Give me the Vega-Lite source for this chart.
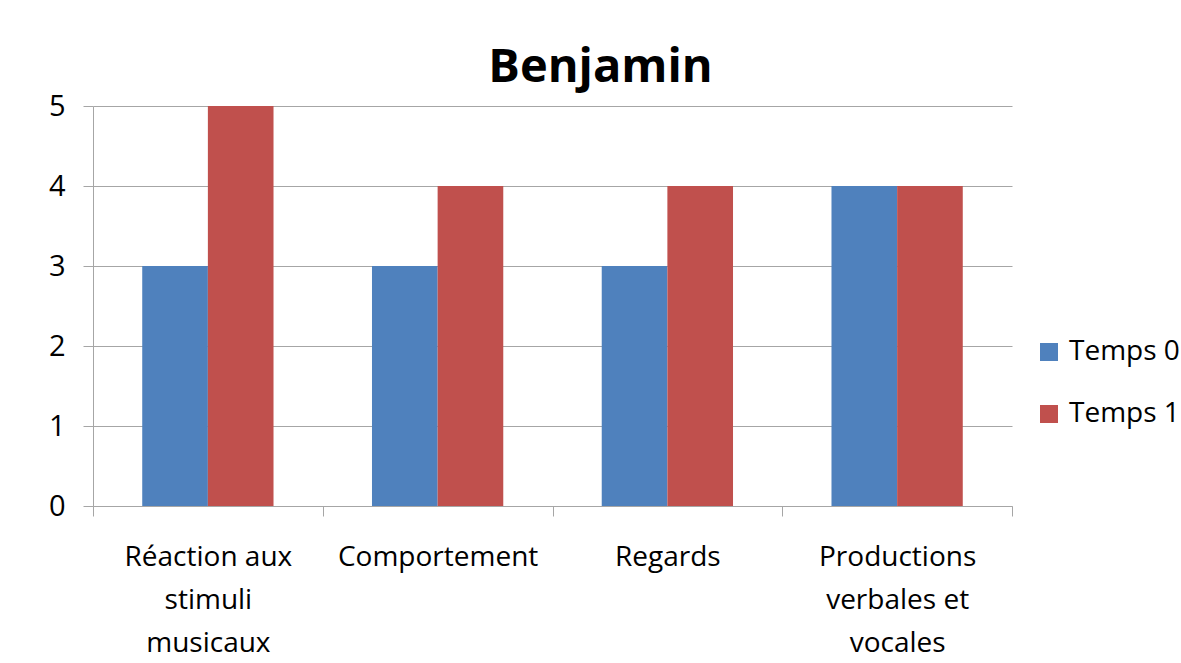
{
  "$schema": "https://vega.github.io/schema/vega-lite/v6.json",
  "width": 919,
  "height": 400,
  "autosize": {"type": "none"},
  "padding": {"left": 93, "top": 106, "right": 169, "bottom": 157},
  "background": "white",
  "title": {
    "text": "Benjamin",
    "font": "Open Sans",
    "fontSize": 47,
    "fontWeight": "bold",
    "color": "black",
    "anchor": "middle",
    "frame": "group",
    "dx": 48,
    "offset": 0
  },
  "data": {
    "values": [
      {"categorie": "Réaction aux stimuli musicaux", "temps": "Temps 0", "score": 3},
      {"categorie": "Réaction aux stimuli musicaux", "temps": "Temps 1", "score": 5},
      {"categorie": "Comportement", "temps": "Temps 0", "score": 3},
      {"categorie": "Comportement", "temps": "Temps 1", "score": 4},
      {"categorie": "Regards", "temps": "Temps 0", "score": 3},
      {"categorie": "Regards", "temps": "Temps 1", "score": 4},
      {"categorie": "Productions verbales et vocales", "temps": "Temps 0", "score": 4},
      {"categorie": "Productions verbales et vocales", "temps": "Temps 1", "score": 4}
    ]
  },
  "mark": {"type": "bar"},
  "encoding": {
    "x": {
      "field": "categorie",
      "type": "nominal",
      "sort": null,
      "scale": {"paddingInner": 0, "paddingOuter": 0},
      "axis": {
        "title": null,
        "labelAngle": 0,
        "tickBand": "extent",
        "tickSize": 10,
        "domainColor": "#a6a6a6",
        "tickColor": "#a6a6a6",
        "labelFont": "Open Sans",
        "labelFontSize": 28,
        "labelColor": "black",
        "labelLineHeight": 43,
        "labelPadding": 27,
        "labelLimit": 0,
        "labelOverlap": false,
        "labelExpr": "datum.label == 'Réaction aux stimuli musicaux' ? ['Réaction aux', 'stimuli', 'musicaux'] : datum.label == 'Productions verbales et vocales' ? ['Productions', 'verbales et', 'vocales'] : datum.label"
      }
    },
    "xOffset": {
      "field": "temps",
      "type": "nominal",
      "scale": {"paddingInner": 0, "paddingOuter": 0.75}
    },
    "y": {
      "field": "score",
      "type": "quantitative",
      "scale": {"domain": [0, 5], "nice": false},
      "axis": {
        "title": null,
        "values": [0, 1, 2, 3, 4, 5],
        "grid": true,
        "gridColor": "#a6a6a6",
        "domainColor": "#a6a6a6",
        "tickColor": "#a6a6a6",
        "tickSize": 10,
        "labelOverlap": false,
        "labelFont": "Open Sans",
        "labelFontSize": 29,
        "labelColor": "black",
        "labelPadding": 18
      }
    },
    "color": {
      "field": "temps",
      "type": "nominal",
      "scale": {"domain": ["Temps 0", "Temps 1"], "range": ["#4F81BD", "#C0504D"]},
      "legend": {
        "title": null,
        "orient": "none",
        "legendX": 942,
        "legendY": 232,
        "symbolType": "square",
        "symbolSize": 324,
        "symbolStrokeWidth": 0,
        "labelFont": "Open Sans",
        "labelFontSize": 28,
        "labelColor": "black",
        "labelOffset": 6,
        "rowPadding": 34
      }
    }
  },
  "config": {
    "view": {"stroke": null}
  }
}
